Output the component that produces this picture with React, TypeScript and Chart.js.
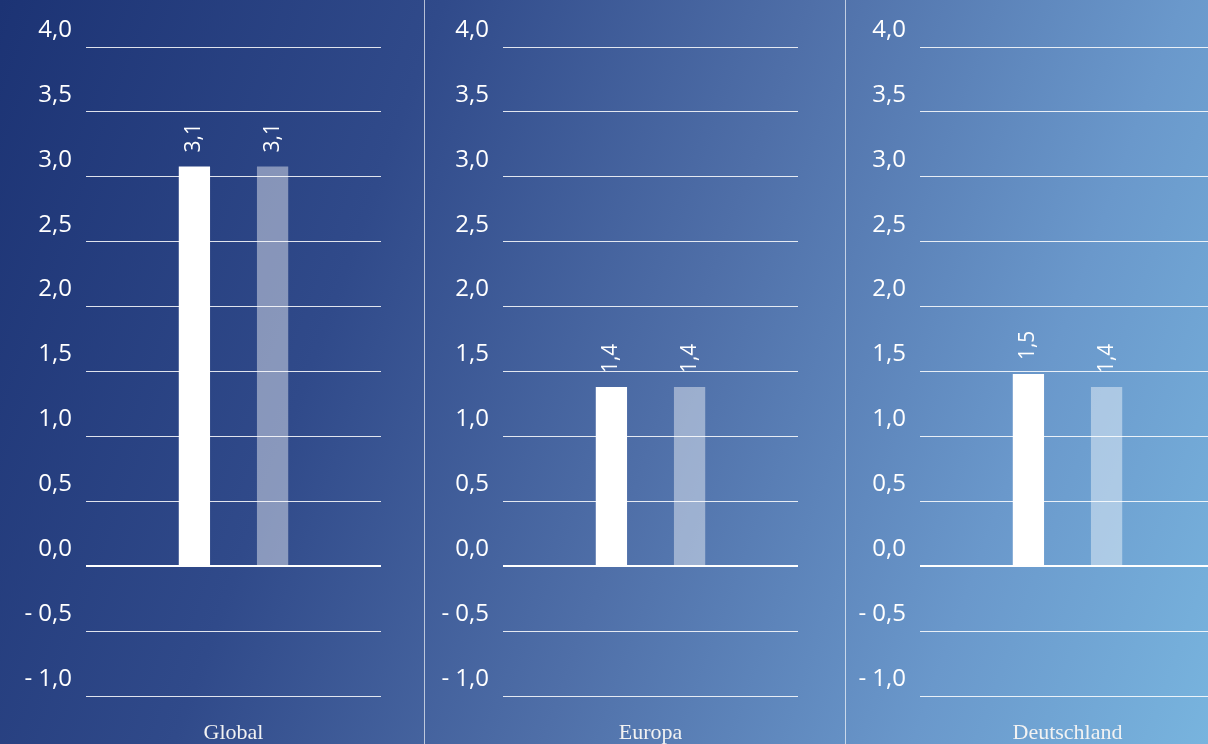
import React, { useEffect, useRef } from "react";
import { Chart, registerables } from "chart.js";

Chart.register(...registerables);

// ---- data ----
const categories = ["Global", "Europa", "Deutschland"];
const seriesFirst = [3.08, 1.38, 1.48];
const seriesSecond = [3.08, 1.38, 1.38];
const yMin = -1;
const yMax = 4;
const yStep = 0.5;

const fmt = (v: number) => {
  const s = Math.abs(v).toFixed(1).replace(".", ",");
  return v < -1e-9 ? "- " + s : s;
};

const valueLabelPlugin = {
  id: "valueLabels",
  afterDatasetsDraw(chart: any) {
    const ctx = chart.ctx;
    ctx.save();
    ctx.fillStyle = "#ffffff";
    ctx.font = "21px 'Open Sans'";
    ctx.textAlign = "left";
    ctx.textBaseline = "middle";
    chart.data.datasets.forEach((ds: any, di: number) => {
      const meta = chart.getDatasetMeta(di);
      meta.data.forEach((bar: any, i: number) => {
        const v = ds.data[i];
        ctx.save();
        ctx.translate(bar.x, bar.y - 14);
        ctx.rotate(-Math.PI / 2);
        ctx.fillText(fmt(v), 0, 0);
        ctx.restore();
      });
    });
    ctx.restore();
  },
};

function Panel({ index, left }: { index: number; left: number }) {
  const ref = useRef<HTMLCanvasElement>(null);
  useEffect(() => {
    if (!ref.current) return;
    const chart = new Chart(ref.current, {
      type: "bar",
      data: {
        labels: [categories[index]],
        datasets: [
          {
            data: [seriesFirst[index]],
            backgroundColor: "#ffffff",
            categoryPercentage: 0.53,
            barPercentage: 0.4,
          },
          {
            data: [seriesSecond[index]],
            backgroundColor: "rgba(255,255,255,0.43)",
            categoryPercentage: 0.53,
            barPercentage: 0.4,
          },
        ],
      },
      options: {
        responsive: false,
        maintainAspectRatio: false,
        animation: false,
        layout: { padding: { top: 47, right: 0, left: 0, bottom: 0 } },
        plugins: { legend: { display: false }, tooltip: { enabled: false } },
        scales: {
          x: {
            grid: { display: false },
            border: { display: false },
            ticks: {
              color: "#f2f2f2",
              font: { family: "'Liberation Serif', serif", size: 22 },
              padding: 16,
            },
            afterFit: (s: any) => {
              s.height = 48;
            },
          },
          y: {
            min: yMin,
            max: yMax,
            border: { display: false },
            grid: {
              drawTicks: false,
              color: (c: any) =>
                c.tick && Math.abs(c.tick.value) < 1e-9 ? "#ffffff" : "rgba(255,255,255,0.85)",
              lineWidth: (c: any) => (c.tick && Math.abs(c.tick.value) < 1e-9 ? 2 : 1),
            },
            ticks: {
              stepSize: yStep,
              color: "#ffffff",
              font: { family: "'Open Sans', sans-serif", size: 24 },
              padding: 14,
              labelOffset: -17,
              callback: (v: any) => fmt(Number(v)),
            },
            afterFit: (s: any) => {
              s.width = 80;
            },
          },
        },
      },
      plugins: [valueLabelPlugin],
    });
    return () => chart.destroy();
  }, [index]);
  return (
    <canvas
      ref={ref}
      width={375}
      height={744}
      style={{ position: "absolute", left, top: 0, width: 375, height: 744 }}
    />
  );
}

export default function App() {
  const lefts = [6, 423, 840];
  return (
    <div
      style={{
        position: "fixed",
        left: 0,
        top: 0,
        width: 1208,
        height: 744,
        overflow: "hidden",
        background:
          "linear-gradient(110deg, #1c3374 0%, #304a8a 30%, #4f6fa8 55%, #6a98cb 80%, #78b4de 100%)",
      }}
    >
      {categories.map((c, i) => (
        <Panel key={c} index={i} left={lefts[i]} />
      ))}
      <div style={{ position: "absolute", left: 424, top: 0, width: 1, height: 744, background: "rgba(255,255,255,0.65)" }} />
      <div style={{ position: "absolute", left: 845, top: 0, width: 1, height: 744, background: "rgba(255,255,255,0.65)" }} />
    </div>
  );
}
